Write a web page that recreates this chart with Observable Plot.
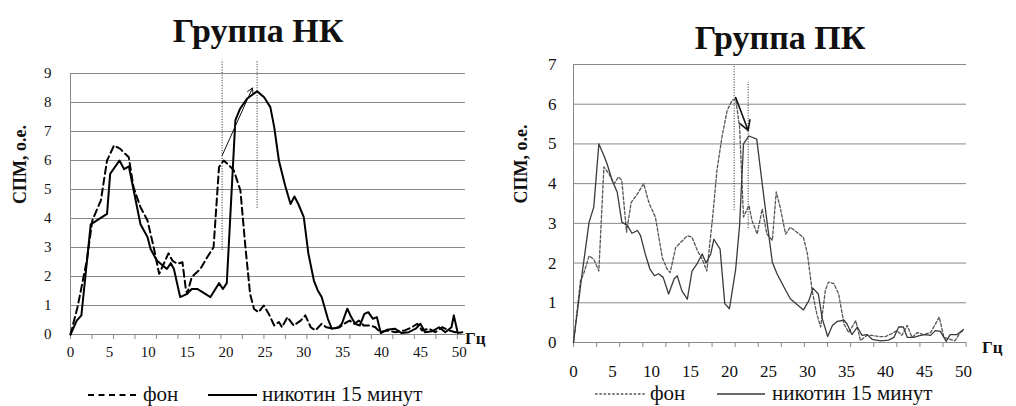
<!DOCTYPE html>
<html><head><meta charset="utf-8">
<script src="https://cdn.jsdelivr.net/npm/d3@7"></script>
<script src="https://cdn.jsdelivr.net/npm/@observablehq/plot@0.6"></script>
<style>
html,body{margin:0;padding:0;background:#fff;}
#wrap{position:relative;width:1016px;height:406px;overflow:hidden;font-family:'Liberation Serif','DejaVu Serif',serif;}
#wrap > .chart{position:absolute;}
#overlay{position:absolute;left:0;top:0;pointer-events:none;}
#overlay text{font-family:'Liberation Serif','DejaVu Serif',serif;}
</style></head>
<body><div id="wrap"></div>
<script>
// ---------- DATA ----------
const titles = ["Группа НК", "Группа ПК"];
const yLabel = "СПМ, о.е.";
const xUnit = "Гц";
const seriesNames = ["фон", "никотин 15 минут"];
const xTickLabels = [0, 5, 10, 15, 20, 25, 30, 35, 40, 45, 50];

// Группа НК — фон
const nkFonHz = [0,0.9,2.1,2.8,3.9,4.7,5.6,6.4,7.5,8.1,9.0,9.9,10.7,11.4,12.0,12.6,13.1,13.7,14.4,14.8,15.0,15.6,16.7,17.6,18.4,19.1,19.7,20.4,21.0,21.85,22.5,23.1,23.6,24.2,24.85,25.5,26.2,26.8,27.2,27.9,28.7,29.6,30.2,30.9,31.5,32.3,32.9,33.8,34.6,35.2,35.9,36.5,37.1,37.7,38.6,39.2,39.8,40.7,41.8,43.0,43.9,44.6,45.2,46.1,46.9,47.8,48.7,49.5,50.1];
const nkFonSpm = [0,0.94,2.55,3.93,4.62,6.0,6.52,6.4,6.11,5.08,4.39,3.93,3.01,2.09,2.44,2.8,2.55,2.44,2.49,1.63,1.4,1.98,2.26,2.67,3.01,5.77,6.0,5.83,5.66,4.97,3.0,1.4,0.88,0.77,1.0,0.71,0.31,0.43,0.25,0.6,0.31,0.48,0.66,0.25,0.14,0.37,0.25,0.2,0.25,0.37,0.48,0.37,0.48,0.31,0.31,0.25,0.08,0.14,0.08,0.14,0.25,0.37,0.14,0.2,0.08,0.25,0.14,0.08,0.05];
// Группа НК — никотин 15 минут
const nkNicHz = [0,0.8,1.4,2.6,4.7,5.1,6.3,6.9,7.5,9.0,9.9,10.3,11.1,12.4,12.9,13.3,14.1,15.0,15.6,16.3,18.0,19.1,19.6,20.1,21.2,21.8,22.7,24.0,24.9,25.7,26.2,26.8,27.6,28.3,28.8,29.3,30.0,30.6,31.3,31.8,32.3,33.1,33.6,34.5,34.9,35.6,36.1,36.6,37.2,37.8,38.3,38.9,39.4,39.9,40.7,41.7,42.6,43.5,44.4,45.0,45.6,46.5,47.4,48.2,49.0,49.3,49.8,50.4];
const nkNicSpm = [0,0.48,0.66,3.8,4.16,5.54,6.0,5.7,5.8,3.8,3.36,2.95,2.55,2.26,2.46,2.26,1.29,1.4,1.57,1.57,1.29,1.77,1.57,1.77,7.38,7.78,8.13,8.39,8.18,7.84,7.15,6.0,5.14,4.5,4.76,4.5,4.05,2.78,1.86,1.52,1.29,0.54,0.2,0.25,0.37,0.89,0.6,0.37,0.31,0.71,0.77,0.54,0.6,0.05,0.16,0.2,0.05,0.08,0.2,0.37,0.08,0.11,0.25,0.08,0.25,0.66,0.05,0.08];
// Группа НК — peak markers and shift arrow
const nkPeakHz = [19.5, 24.0];
const nkPeakFrom = [2.9, 4.35];
const nkPeakTo = [9.45, 9.45];
const nkShift = {hz1: 19.5, spm1: 6.17, hz2: 23.4, spm2: 8.5};

// Группа ПК — фон
const pkFonHz = [0,0.9,1.3,2.0,2.6,3.25,3.9,4.53,5.2,5.8,6.2,6.8,7.4,8.2,9.0,9.7,10.5,11.4,12.0,12.4,13.1,13.9,14.6,15.2,15.9,16.5,17.1,17.8,18.4,19.06,19.7,20.35,20.8,21.3,21.8,22.5,22.9,23.55,24.2,24.8,25.5,26.0,26.5,27.2,27.8,28.7,29.5,30.0,30.6,31.2,31.7,32.3,32.7,33.4,34.0,34.7,35.3,36.2,36.8,37.65,38.3,39.1,40.0,40.8,41.5,42.1,42.8,43.4,44.1,44.9,45.8,46.4,46.9,47.5,48.3,48.9,49.6,50.0];
const pkFonSpm = [0,1.56,1.73,2.18,2.1,1.8,4.42,4.25,4.0,4.17,4.08,2.78,3.53,3.74,4.0,3.5,3.16,2.13,1.85,1.76,2.39,2.55,2.69,2.65,2.31,2.1,1.8,3.07,4.34,5.2,5.84,6.1,6.13,5.43,3.16,3.45,3.07,2.73,3.36,2.73,2.57,3.79,3.41,2.73,2.9,2.77,2.64,2.23,1.31,0.72,0.39,1.31,1.52,1.48,1.22,0.46,0.25,0.55,0.05,0.18,0.18,0.15,0.15,0.22,0.3,0.18,0.43,0.13,0.25,0.2,0.25,0.46,0.64,0.13,0.08,0.04,0.25,0.3];
// Группа ПК — никотин 15 минут
const pkNicHz = [0,1.1,2.0,2.6,3.25,3.9,4.3,4.96,5.6,6.2,6.9,7.5,8.2,8.6,9.2,9.8,10.4,10.9,11.5,12.2,12.9,13.3,13.9,14.6,15.2,15.9,16.5,17.0,17.6,18.0,18.8,19.4,20.0,20.8,21.3,21.8,22.5,23.5,24.2,24.8,25.5,26.1,27.0,27.8,28.7,29.5,30.2,30.7,31.4,31.9,32.6,33.2,33.8,34.7,35.1,35.7,36.4,37.0,37.65,38.3,39.4,40.4,41.1,41.7,42.3,42.8,43.6,44.5,45.1,45.8,46.4,47.05,47.8,48.3,49.2,50.0];
const pkNicSpm = [0,1.73,3.03,3.41,5.0,4.71,4.5,4.08,3.79,3.03,2.95,2.75,2.82,2.69,2.23,1.85,1.68,1.73,1.64,1.22,1.6,1.68,1.3,1.09,1.8,2.0,2.23,2.0,2.23,2.6,2.35,0.98,0.85,1.85,2.95,5.0,5.2,5.12,4.0,3.07,2.02,1.73,1.39,1.1,0.95,0.82,1.06,1.37,1.22,0.6,0.15,0.43,0.53,0.56,0.46,0.2,0.39,0.18,0.2,0.08,0.04,0.06,0.13,0.39,0.39,0.13,0.13,0.18,0.2,0.18,0.3,0.28,0.03,0.2,0.2,0.33];
// Группа ПК — peak markers and shift arrow
const pkPeakHz = [20.6, 22.4];
const pkPeakFrom = [3.32, 2.87];
const pkPeakTo = [6.95, 6.55];
const pkShift = {hz1: 20.8, spm1: 6.17, hz2: 22.4, spm2: 5.34};

// ---------- BUILD ----------
const FONT = "'Liberation Serif', 'DejaVu Serif', serif";
const zip = (xs, ys) => xs.map((x, i) => ({hz: x, spm: ys[i]}));
const peaks = (hz, a, b) => hz.map((h, i) => ({hz: h, from: a[i], to: b[i]}));

const wrap = document.getElementById("wrap");
const GRID = "#898989";

function chart(o) {
  const fig = Plot.plot({
    width: o.width, height: o.height,
    marginLeft: o.ml, marginRight: o.mr, marginTop: o.mt, marginBottom: o.mb,
    style: {fontFamily: FONT, background: "transparent", overflow: "visible", color: "#111"},
    x: {type: "linear", domain: o.xDomain},
    y: {domain: [0, o.yMax]},
    marks: [
      Plot.gridY(d3.range(1, o.yMax + 1), {stroke: GRID, strokeOpacity: 1, strokeWidth: 1}),
      Plot.ruleY([0], {stroke: GRID, strokeWidth: 1}),
      Plot.ruleX([0], {stroke: GRID, strokeWidth: 1}),
      Plot.axisY(d3.range(0, o.yMax + 1), {tickSize: 0, tickPadding: o.yPad, fontSize: o.fs, label: null, fill: "#111"}),
      Plot.axisX(o.minorTicks, {tickSize: 5, stroke: GRID, tickFormat: () => "", label: null}),
      Plot.axisX(xTickLabels, {tickSize: 0, tickPadding: o.xPad, fontSize: o.fs, label: null, fill: "#111"}),
      Plot.ruleX(o.peaks, {x: "hz", y1: "from", y2: "to", stroke: "#222", strokeWidth: 1, strokeDasharray: "1,1.6"}),
      Plot.line(o.fon, {x: "hz", y: "spm", stroke: o.fonColor, strokeWidth: o.fonWidth, strokeDasharray: o.fonDash}),
      Plot.line(o.nic, {x: "hz", y: "spm", stroke: o.nicColor, strokeWidth: o.nicWidth}),
      Plot.arrow([o.shift], {x1: "hz1", y1: "spm1", x2: "hz2", y2: "spm2", stroke: "#111", strokeWidth: o.arrowW, headLength: o.headLen}),
      Plot.text([yLabel], {frameAnchor: "left", rotate: -90, dx: o.ylDx, fontWeight: "bold", fontSize: 18, fill: "#111"}),
      Plot.text([xUnit], {frameAnchor: "bottom-right", dx: o.unitDx, dy: o.unitDy, fontWeight: "bold", fontSize: 17, fill: "#111"})
    ]
  });
  fig.classList.add("chart");
  fig.style.left = o.left + "px";
  fig.style.top = o.top + "px";
  fig.style.fontFamily = FONT;
  wrap.appendChild(fig);
}

chart({
  left: 0, top: 50, width: 510, height: 320, ml: 70, mr: 45, mt: 23, mb: 36,
  xDomain: [0, 50.8], yMax: 9, fs: 15, yPad: 19, xPad: 12,
  minorTicks: d3.range(19).map(i => i * 49.75 / 18),
  fon: zip(nkFonHz, nkFonSpm), nic: zip(nkNicHz, nkNicSpm),
  fonColor: "#000", fonWidth: 2, fonDash: "7,4",
  nicColor: "#000", nicWidth: 2,
  peaks: peaks(nkPeakHz, nkPeakFrom, nkPeakTo), shift: nkShift, arrowW: 1, headLen: 9,
  ylDx: -50, unitDx: 20, unitDy: 9
});

chart({
  left: 508, top: 50, width: 508, height: 335, ml: 65, mr: 50, mt: 14, mb: 43,
  xDomain: [0, 50.4], yMax: 7, fs: 17, yPad: 17, xPad: 22,
  minorTicks: d3.range(18).map(i => i * 50.35 / 17),
  fon: zip(pkFonHz, pkFonSpm), nic: zip(pkNicHz, pkNicSpm),
  fonColor: "#555", fonWidth: 1.3, fonDash: "3,2",
  nicColor: "#3a3a3a", nicWidth: 1.3,
  peaks: peaks(pkPeakHz, pkPeakFrom, pkPeakTo), shift: pkShift, arrowW: 1.6, headLen: 10,
  ylDx: -52, unitDx: 36, unitDy: 10
});

// ---------- TITLES & LEGENDS ----------
const NS = "http://www.w3.org/2000/svg";
const ov = document.createElementNS(NS, "svg");
ov.setAttribute("id", "overlay");
ov.setAttribute("width", 1016);
ov.setAttribute("height", 406);
wrap.appendChild(ov);
function txt(s, x, y, size, weight, anchor) {
  const t = document.createElementNS(NS, "text");
  t.setAttribute("x", x); t.setAttribute("y", y);
  t.setAttribute("font-size", size);
  t.setAttribute("font-weight", weight || "normal");
  t.setAttribute("text-anchor", anchor || "start");
  t.setAttribute("fill", "#111");
  t.style.fontFamily = FONT;
  t.textContent = s;
  ov.appendChild(t);
}
function seg(x1, x2, y, color, w, dash) {
  const l = document.createElementNS(NS, "line");
  l.setAttribute("x1", x1); l.setAttribute("x2", x2);
  l.setAttribute("y1", y); l.setAttribute("y2", y);
  l.setAttribute("stroke", color); l.setAttribute("stroke-width", w);
  if (dash) l.setAttribute("stroke-dasharray", dash);
  ov.appendChild(l);
}
txt(titles[0], 258, 42, 34, "bold", "middle");
txt(titles[1], 780, 49, 34, "bold", "middle");

seg(88, 138, 395, "#000", 2, "6,4.5");
txt(seriesNames[0], 143, 401, 21);
seg(208, 257, 395, "#000", 2);
txt(seriesNames[1], 262, 401, 21);

seg(595, 645, 394, "#555", 1.3, "2.5,1.8");
txt(seriesNames[0], 650, 400, 21);
seg(717, 765, 394, "#3a3a3a", 1.3);
txt(seriesNames[1], 772, 400, 21);
</script>
</body></html>
